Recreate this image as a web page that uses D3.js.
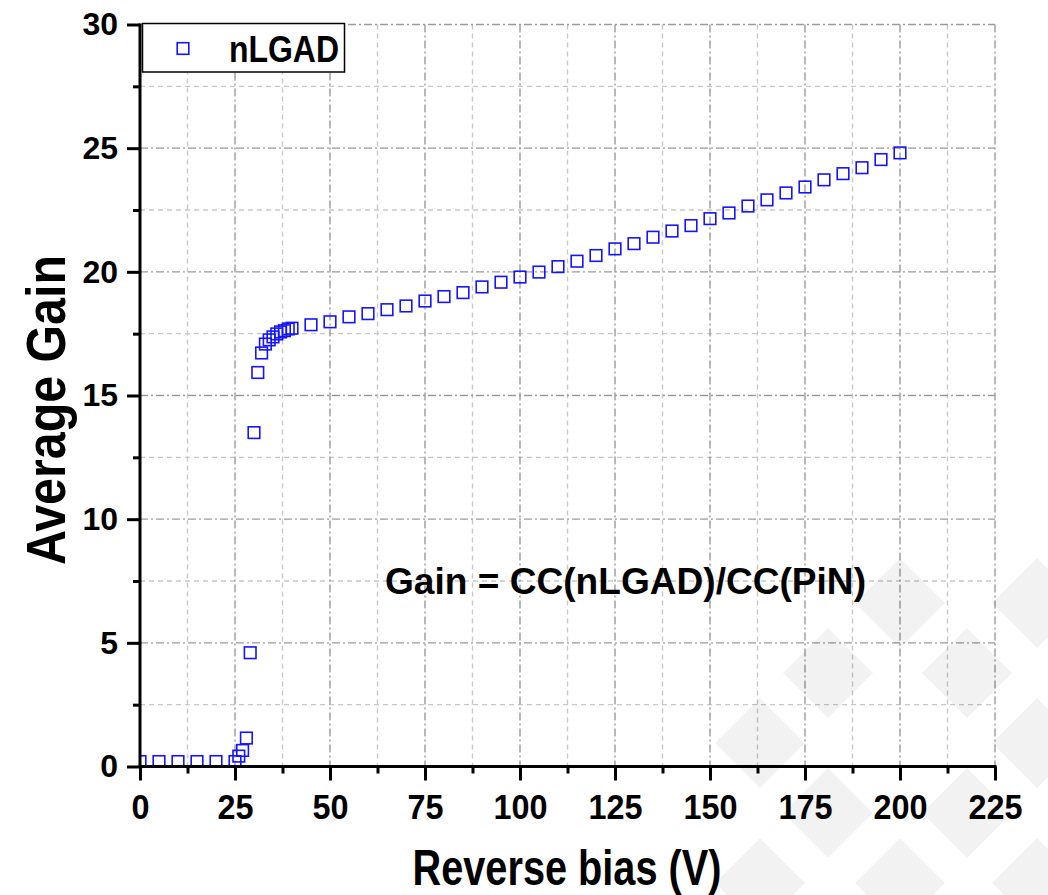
<!DOCTYPE html>
<html>
<head>
<meta charset="utf-8">
<script src="https://cdn.jsdelivr.net/npm/d3@7"></script>
<style>
  html, body { margin: 0; padding: 0; background: #fff; }
  svg { display: block; }
  text { font-family: "Liberation Sans", Arial, Helvetica, sans-serif; font-weight: bold; fill: #000; }
</style>
</head>
<body>
<svg id="chart" width="1048" height="895"></svg>
<script>
// Reverse bias (V) and measured average gain of the nLGAD
const biasV = [0, 5, 10, 15, 20, 25, 26, 27, 28, 29, 30, 31, 32, 33, 34, 35, 36, 37, 38, 39, 40,
  45, 50, 55, 60, 65, 70, 75, 80, 85, 90, 95, 100, 105, 110, 115, 120, 125, 130, 135, 140,
  145, 150, 155, 160, 165, 170, 175, 180, 185, 190, 195, 200];
const gain = [0.2, 0.2, 0.2, 0.2, 0.2, 0.2, 0.42, 0.65, 1.15, 4.6, 13.5, 15.93, 16.72, 17.08, 17.25, 17.37, 17.49, 17.57, 17.62, 17.69, 17.72,
  17.86, 17.98, 18.18, 18.31, 18.47, 18.62, 18.82, 19.0, 19.16, 19.39, 19.58, 19.79, 19.99, 20.21, 20.43, 20.66, 20.93, 21.14, 21.4, 21.65,
  21.87, 22.15, 22.38, 22.66, 22.91, 23.19, 23.43, 23.72, 23.97, 24.21, 24.54, 24.81];

const xTicks = [0, 25, 50, 75, 100, 125, 150, 175, 200, 225];
const yTicks = [0, 5, 10, 15, 20, 25, 30];
const xMinor = [12.5, 37.5, 62.5, 87.5, 112.5, 137.5, 162.5, 187.5, 212.5];
const yMinor = [2.5, 7.5, 12.5, 17.5, 22.5, 27.5];

const seriesName = "nLGAD";
const xTitle = "Reverse bias (V)";
const yTitle = "Average Gain";
const note = "Gain = CC(nLGAD)/CC(PiN)";

const svg = d3.select("#chart");
const plotL = 140, plotR = 995, plotT = 24.5, plotB = 766.5;

const x = d3.scaleLinear().domain([0, 225]).range([plotL, plotR]);
const y = d3.scaleLinear().domain([0, 30]).range([plotB, plotT]);

// grid: minor dashed, major dash-dot
const grid = svg.append("g");
grid.selectAll(".gxm").data(xMinor).join("line")
  .attr("x1", d => x(d)).attr("x2", d => x(d)).attr("y1", plotT).attr("y2", plotB)
  .attr("stroke", "#c8c8c8").attr("stroke-width", 1.4).attr("stroke-dasharray", "5,4");
grid.selectAll(".gym").data(yMinor).join("line")
  .attr("y1", d => y(d)).attr("y2", d => y(d)).attr("x1", plotL).attr("x2", plotR)
  .attr("stroke", "#c8c8c8").attr("stroke-width", 1.4).attr("stroke-dasharray", "5,4");
grid.selectAll(".gx").data(xTicks.filter(d => d > 0)).join("line")
  .attr("x1", d => x(d)).attr("x2", d => x(d)).attr("y1", plotT).attr("y2", plotB)
  .attr("stroke", "#9a9a9a").attr("stroke-width", 1.4).attr("stroke-dasharray", "8,3,2,3");
grid.selectAll(".gy").data(yTicks.filter(d => d > 0)).join("line")
  .attr("y1", d => y(d)).attr("y2", d => y(d)).attr("x1", plotL).attr("x2", plotR)
  .attr("stroke", "#9a9a9a").attr("stroke-width", 1.4).attr("stroke-dasharray", "8,3,2,3");

// data markers, clipped to the plot area
svg.append("clipPath").attr("id", "plotClip")
  .append("rect").attr("x", plotL).attr("y", plotT - 8).attr("width", plotR - plotL + 8).attr("height", plotB - plotT + 8);

const msize = 11.6;
svg.append("g").attr("clip-path", "url(#plotClip)")
  .selectAll("rect").data(biasV.map((v, i) => ({ v, g: gain[i] }))).join("rect")
  .attr("x", d => x(d.v) - msize / 2).attr("y", d => y(d.g) - msize / 2)
  .attr("width", msize).attr("height", msize)
  .attr("fill", "none").attr("stroke", "#1414ff").attr("stroke-width", 1.6);

// axes
const xAxis = svg.append("g").attr("transform", `translate(0,${plotB})`)
  .call(d3.axisBottom(x).tickValues(xTicks).tickSize(14).tickPadding(0).tickFormat(d3.format("d")));
const xAxisMinor = svg.append("g").attr("transform", `translate(0,${plotB})`)
  .call(d3.axisBottom(x).tickValues(xMinor).tickSize(7).tickFormat(""));
const yAxis = svg.append("g").attr("transform", `translate(${plotL},0)`)
  .call(d3.axisLeft(y).tickValues(yTicks).tickSize(13).tickPadding(9).tickFormat(d3.format("d")));
const yAxisMinor = svg.append("g").attr("transform", `translate(${plotL},0)`)
  .call(d3.axisLeft(y).tickValues(yMinor).tickSize(7).tickFormat(""));

[xAxis, xAxisMinor, yAxis, yAxisMinor].forEach(a => {
  a.select(".domain").attr("stroke", "#000").attr("stroke-width", 3);
  a.selectAll(".tick line").attr("stroke", "#000").attr("stroke-width", 3);
});
xAxis.select(".domain").attr("d", `M${plotL - 1.5},0H${plotR + 1.5}`);
yAxis.select(".domain").attr("d", `M0,${plotT - 1}V${plotB + 1.5}`);
xAxisMinor.select(".domain").remove();
yAxisMinor.select(".domain").remove();

xAxis.selectAll(".tick text")
  .attr("y", 53).attr("dy", null)
  .attr("font-size", 36).attr("font-weight", "bold")
  .attr("font-family", "Liberation Sans, Arial, sans-serif")
  .attr("transform", "scale(0.9,1)");
yAxis.selectAll(".tick text")
  .attr("font-size", 32).attr("font-weight", "bold")
  .attr("font-family", "Liberation Sans, Arial, sans-serif");

// legend
const lg = svg.append("g");
lg.append("rect").attr("x", 142.5).attr("y", 23.5).attr("width", 202).attr("height", 48.5)
  .attr("fill", "#fff").attr("stroke", "#000").attr("stroke-width", 1.5);
lg.append("rect").attr("x", 183 - msize / 2).attr("y", 48.5 - msize / 2).attr("width", msize).attr("height", msize)
  .attr("fill", "none").attr("stroke", "#1414ff").attr("stroke-width", 1.6);
lg.append("text").attr("x", 229).attr("y", 62).attr("font-size", 36)
  .attr("textLength", 110).attr("lengthAdjust", "spacingAndGlyphs").text(seriesName);

// annotation
svg.append("text").attr("x", 385).attr("y", 594).attr("font-size", 37)
  .attr("textLength", 481).attr("lengthAdjust", "spacingAndGlyphs").text(note);

// axis titles
svg.append("text").attr("x", 567).attr("y", 885).attr("text-anchor", "middle").attr("font-size", 50)
  .attr("textLength", 309).attr("lengthAdjust", "spacingAndGlyphs").text(xTitle);
svg.append("text").attr("transform", "translate(65,410) rotate(-90)").attr("text-anchor", "middle")
  .attr("font-size", 55).attr("textLength", 310).attr("lengthAdjust", "spacingAndGlyphs").text(yTitle);

// faint diamond watermark in the lower right
const wm = [[900, 603], [1037, 603], [828, 673], [967, 673], [760, 743], [1037, 743],
  [828, 813], [967, 813], [760, 883], [900, 883], [1037, 883]];
svg.append("g").selectAll("path").data(wm).join("path")
  .attr("d", d => `M${d[0]},${d[1] - 45}L${d[0] + 45},${d[1]}L${d[0]},${d[1] + 45}L${d[0] - 45},${d[1]}Z`)
  .attr("fill", "#000").attr("fill-opacity", 0.05);
</script>
</body>
</html>
